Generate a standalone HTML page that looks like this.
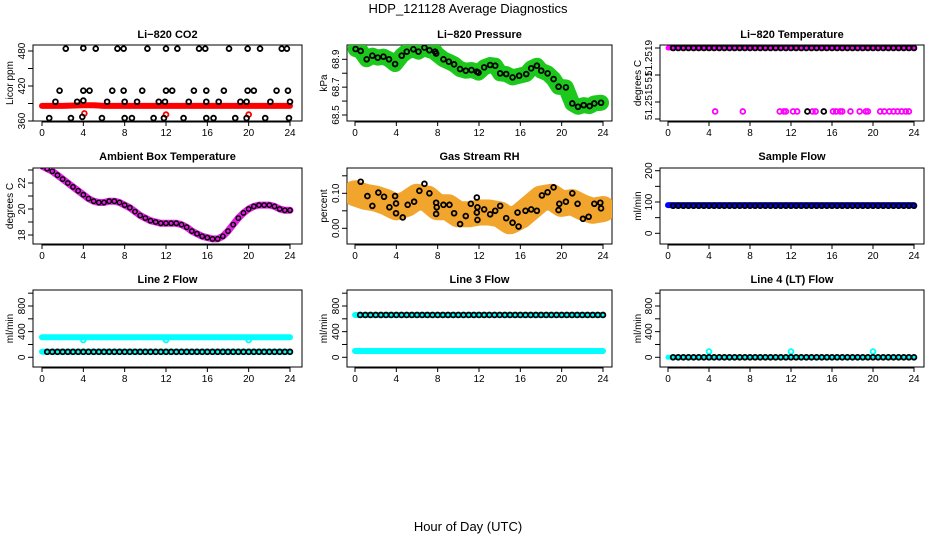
<!DOCTYPE html>
<html><head><meta charset="utf-8">
<style>
html,body{margin:0;padding:0;background:#fff;}
svg{display:block;font-family:"Liberation Sans",Arial,sans-serif;}
</style></head>
<body>
<svg id="chart" width="936" height="540" viewBox="0 0 936 540">
<text x="468" y="13" text-anchor="middle" font-size="13">HDP_121128  Average Diagnostics</text>
<text x="468" y="531" text-anchor="middle" font-size="13">Hour of Day (UTC)</text>
</svg>
<script>
// ---------- data ----------
const xTicks = [0,4,8,12,16,20,24];
const hrs48 = [0.5,1,1.5,2,2.5,3,3.5,4,4.5,5,5.5,6,6.5,7,7.5,8,8.5,9,9.5,10,10.5,11,11.5,12,12.5,13,13.5,14,14.5,15,15.5,16,16.5,17,17.5,18,18.5,19,19.5,20,20.5,21,21.5,22,22.5,23,23.5,24];

const co2Hours = [2.3,4,5.2,7.3,7.9,10.2,12,13.1,15.2,15.8,18.1,19.9,21.1,23.2,23.7, 1.7,4,4.6,6.8,7.9,9.7,12,12.6,14.7,15.9,17.6,19.9,20.5,22.7,23.8, 1.3,3.4,4,6.3,8,9.2,11.3,11.9,14.2,15.9,17.1,19.2,19.8,22.1,24, 0.7,2.8,3.9,5.8,8,8.7,10.8,11.8,13.7,15.9,16.6,18.7,19.8,21.6,23.9];
const co2Vals = [484,485,484,484,484,484,484,484,484,484,484,484,484,484,484, 412,412,412,412,412,412,412,412,412,412,412,412,412,412,412, 393,393,395,393,393,393,393,393,393,393,393,393,393,393,393, 365,365,367,365,365,365,365,365,365,365,365,365,365,365,365];
const co2RedHours = [0,2,4,5,6,8,10,12,14,16,18,20,22,24];
const co2RedVals = [386,386,387,387,386,386,386,386,386,386,386,386,386,386];
const co2OutHours = [4.1,12.0,20.0];
const co2OutVals = [373,371,371];

const presHours = [0.06,0.55,1.13,1.68,2.20,2.75,3.29,3.88,4.52,5.01,5.65,6.14,6.72,7.20,7.75,7.85,8.56,9.08,9.59,10.17,10.72,11.27,11.79,11.95,12.50,13.08,13.57,14.05,14.63,15.25,15.89,16.57,17.05,17.60,18.02,18.64,19.22,19.70,20.41,21.03,21.58,22.13,22.71,23.16,23.81];
const presVals = [68.974,68.960,68.900,68.926,68.912,68.919,68.900,68.866,68.926,68.955,68.972,68.955,68.984,68.965,68.955,68.941,68.900,68.883,68.864,68.830,68.818,68.823,68.811,68.804,68.842,68.859,68.854,68.799,68.794,68.770,68.782,68.794,68.835,68.854,68.818,68.799,68.758,68.703,68.698,68.583,68.559,68.571,68.564,68.583,68.588];

const tempTopVals = [51.2519,51.2519,51.2519,51.2519,51.2519,51.2519,51.2519,51.2519,51.2519,51.2519,51.2519,51.2519,51.2519,51.2519,51.2519,51.2519,51.2519,51.2519,51.2519,51.2519,51.2519,51.2519,51.2519,51.2519,51.2519,51.2519,51.2519,51.2519,51.2519,51.2519,51.2519,51.2519,51.2519,51.2519,51.2519,51.2519,51.2519,51.2519,51.2519,51.2519,51.2519,51.2519,51.2519,51.2519,51.2519,51.2519,51.2519,51.2519];
const tempLowMagHours = [4.6,7.3,10.9,11.3,11.5,12.2,12.6,14.1,14.4,16.1,16.4,16.8,17.0,17.8,18.7,19.3,19.5,20.7,21.1,21.6,22.0,22.4,22.8,23.2,23.5];
const tempLowBlackHours = [13.6,15.2];
const tempLowVal = 51.25143;

const ambHours = [0,0.5,1,1.5,2,2.5,3,3.5,4,4.5,5,5.5,6,6.5,7,7.5,8,8.5,9,9.5,10,10.5,11,11.5,12,12.5,13,13.5,14,14.5,15,15.5,16,16.5,17,17.5,18,18.5,19,19.5,20,20.5,21,21.5,22,22.5,23,23.5,24];
const ambVals = [23.3,23.1,22.9,22.6,22.3,22.0,21.7,21.4,21.1,20.8,20.6,20.5,20.5,20.6,20.6,20.5,20.3,20.1,19.8,19.5,19.3,19.1,19.0,18.9,18.9,18.9,18.9,18.8,18.6,18.3,18.1,17.9,17.8,17.7,17.7,17.9,18.3,18.8,19.3,19.7,20.0,20.2,20.3,20.3,20.3,20.2,20.0,19.9,19.9];

const rhHours = [0.55,1.20,1.68,2.26,2.81,3.33,3.88,3.97,3.97,4.62,5.10,5.72,6.23,6.72,7.20,7.85,7.91,7.85,8.56,9.14,9.59,10.17,10.72,11.21,11.79,11.85,11.79,11.85,12.50,13.08,13.57,14.05,14.63,15.25,15.73,15.83,16.50,17.05,17.60,18.09,18.64,19.22,19.70,19.77,20.41,21.03,21.54,22.06,22.61,23.16,23.74,23.81];
const rhVals = [0.133,0.092,0.064,0.102,0.090,0.060,0.092,0.071,0.043,0.031,0.067,0.076,0.107,0.127,0.100,0.073,0.060,0.041,0.067,0.067,0.043,0.012,0.035,0.070,0.088,0.060,0.045,0.024,0.054,0.040,0.050,0.064,0.029,0.016,0.045,0.005,0.050,0.054,0.050,0.094,0.103,0.117,0.052,0.070,0.076,0.100,0.070,0.027,0.033,0.070,0.073,0.057];
const rhBandHours = [0,1,2,3,4,5,6,7,8,9,10,11,12,13,14,15,16,17,18,19,20,21,22,23,24];
const rhBandVals = [0.10,0.09,0.085,0.075,0.06,0.07,0.09,0.085,0.06,0.06,0.04,0.04,0.045,0.045,0.04,0.02,0.035,0.06,0.085,0.09,0.07,0.075,0.06,0.05,0.055];

const sampleVals = [88,88,88,88,88,88,88,88,88,88,88,88,88,88,88,88,88,88,88,88,88,88,88,88,88,88,88,88,88,88,88,88,88,88,88,88,88,88,88,88,88,88,88,88,88,88,88,88];
const line2Upper = 312, line2Lower = 87;
const line2Black = [85,85,85,85,85,85,85,85,85,85,85,85,85,85,85,85,85,85,85,85,85,85,85,85,85,85,85,85,85,85,85,85,85,85,85,85,85,85,85,85,85,85,85,85,85,85,85,85];
const line2DipHours = [4,12,20];
const line2DipVals = [270,270,270];
const line3Upper = 660, line3Lower = 98;
const line3Black = [660,660,660,660,660,660,660,660,660,660,660,660,660,660,660,660,660,660,660,660,660,660,660,660,660,660,660,660,660,660,660,660,660,660,660,660,660,660,660,660,660,660,660,660,660,660,660,660];
const line4Black = [0,0,0,0,0,0,0,0,0,0,0,0,0,0,0,0,0,0,0,0,0,0,0,0,0,0,0,0,0,0,0,0,0,0,0,0,0,0,0,0,0,0,0,0,0,0,0,0];
const line4BlipHours = [4,12,20];
const line4BlipVals = [90,90,90];

// ---------- helpers ----------
const NS = 'http://www.w3.org/2000/svg';
const svg = document.getElementById('chart');
function mk(tag, attrs, parent){ const e=document.createElementNS(NS,tag); for(const k in attrs) e.setAttribute(k,attrs[k]); (parent||svg).appendChild(e); return e; }
function lin(v0,p0,v1,p1){ return v=>p0+(v-v0)*(p1-p0)/(v1-v0); }

const cols=[{l:33,r:302,x0:42,x24:290,lab:9},{l:347,r:612,x0:355,x24:603,lab:323},{l:660,r:924,x0:668,x24:914,lab:637}];
const rows=[{t:45,b:121,ty:38},{t:168,b:244,ty:160},{t:290,b:367,ty:283}];

function panel(ci,ri,name,title,ylab,ysc,ticks){
  const c=cols[ci], r=rows[ri];
  const g=mk('g',{});
  
  
  const x=lin(0,c.x0,24,c.x24);
  const t=mk('text',{x:(c.l+c.r)/2,y:r.ty,'text-anchor':'middle','font-size':11,'font-weight':'bold'},g);
  t.textContent=title;
  
  
  const yl=mk('text',{x:0,y:0,'text-anchor':'middle','font-size':10,transform:`translate(${c.lab+4},${(r.t+r.b)/2}) rotate(-90)`},g);
  yl.textContent=ylab;
  
  
  const xa=mk('g',{},g);
  
  
  mk('line',{x1:x(0),x2:x(24),y1:r.b+1,y2:r.b+1,stroke:'#000'},xa);
  xTicks.forEach(v=>{
    mk('line',{x1:x(v),x2:x(v),y1:r.b,y2:r.b+5,stroke:'#000'},xa);
    const tl=mk('text',{x:x(v),y:r.b+15,'text-anchor':'middle','font-size':10},xa);
    tl.textContent=v;
  });
  const ya=mk('g',{},g);
  
  
  const pts=ticks.map(tk=>tk[2]!==undefined?tk[2]:ysc(tk[0]));
  mk('line',{x1:c.l,x2:c.l,y1:Math.min(...pts),y2:Math.max(...pts),stroke:'#000'},ya);
  ticks.forEach((tk,i)=>{
    const py=pts[i];
    mk('line',{x1:c.l-5,x2:c.l,y1:py,y2:py,stroke:'#000'},ya);
    if(tk[1]){ const ly=tk[3]!==undefined?tk[3]:py; const tl=mk('text',{x:0,y:0,'text-anchor':'middle','font-size':10,transform:`translate(${c.l-8},${ly}) rotate(-90)`},ya); tl.textContent=tk[1]; }
  });
  mk('rect',{x:c.l,y:r.t,width:c.r-c.l,height:r.b-r.t,fill:'none',stroke:'#000'},g);
  const clip='clip'+ci+ri;
  const cp=mk('clipPath',{id:clip},g); mk('rect',{x:c.l,y:r.t,width:c.r-c.l,height:r.b-r.t},cp);
  const plot=mk('g',{'clip-path':`url(#${clip})`},g);
  return {x,y:ysc,g:plot};
}
function poly(P,hs,vs,color,w,name){
  const e=mk('polyline',{points:hs.map((h,i)=>P.x(h)+','+P.y(vs[i])).join(' '),fill:'none',stroke:color,'stroke-width':w,'stroke-linejoin':'round','stroke-linecap':'round'},P.g);
  
  
}
function circles(P,hs,vs,color,name,r,sw){
  const g=mk('g',{},P.g);
  
  
  hs.forEach((h,i)=>mk('circle',{cx:P.x(h),cy:P.y(vs[i]),r:r||2.4,fill:'none',stroke:color,'stroke-width':sw||1.8},g));
}

// ---------- panels ----------
let P;
P=panel(0,0,'co2','Li−820 CO2','Licor ppm',lin(360,121,480,51),[[360,'360'],[390,''],[420,'420'],[450,''],[480,'480']]);
poly(P,co2RedHours,co2RedVals,'#ff0000',6,'co2-red-series');
circles(P,co2OutHours,co2OutVals,'#ff0000','co2-red-outliers');
circles(P,co2Hours,co2Vals,'#000','co2-avg-points');

P=panel(1,0,'pressure','Li−820 Pressure','kPa',lin(68.5,115,68.9,59.3),[[68.5,'68.5'],[68.6,''],[68.7,'68.7'],[68.8,''],[68.9,'68.9']]);
poly(P,presHours,presVals,'#1cc81c',16,'pressure-green-band');
circles(P,presHours,presVals,'#000','pressure-avg-points');

P=panel(2,0,'temperature','Li−820 Temperature','degrees C',lin(51.2515,102,51.2519,48),[[51.2519,'51.2519',48,58],[51.2518,'51',75,77],[51.2515,'51.2515',102,102],[51.2514,'',119]]);
poly(P,[0,24],[51.2519,51.2519],'#ff00ff',5,'temperature-magenta-band');
circles(P,hrs48,tempTopVals,'#000','temperature-avg-points');
circles(P,tempLowMagHours,tempLowMagHours.map(()=>tempLowVal),'#ff00ff','temperature-magenta-low');
circles(P,tempLowBlackHours,tempLowBlackHours.map(()=>tempLowVal),'#000','temperature-black-low');

P=panel(0,1,'ambient','Ambient Box Temperature','degrees C',lin(20,209,22,183),[[18,'18'],[19,''],[20,'20'],[21,''],[22,'22'],[23,'']]);
poly(P,ambHours,ambVals,'#e020e0',7,'ambient-magenta-series');
circles(P,ambHours,ambVals,'#000','ambient-avg-points',2.2,1.4);

P=panel(1,1,'rh','Gas Stream RH','percent',lin(0,228.3,0.10,193.3),[[0,'0.00'],[0.05,''],[0.10,'0.10'],[0.15,'']]);
poly(P,rhBandHours,rhBandVals,'#f2a52c',26,'rh-orange-band');
circles(P,rhHours,rhVals,'#000','rh-avg-points');

P=panel(2,1,'sample-flow','Sample Flow','ml/min',lin(0,233.3,200,170.7),[[0,'0'],[50,''],[100,'100'],[150,''],[200,'200']]);
poly(P,[0,24],[90,90],'#0000ff',6,'sample-flow-blue');
circles(P,hrs48,sampleVals,'#000','sample-flow-avg-points');

const flowTicks=[[0,'0'],[200,''],[400,'400'],[600,''],[800,'800'],[1000,'']];
P=panel(0,2,'line2','Line 2 Flow','ml/min',lin(0,357.3,800,306),flowTicks);
poly(P,[0,24],[line2Upper,line2Upper],'#00ffff',6,'line2-upper-cyan');
circles(P,line2DipHours,line2DipVals,'#00ffff','line2-dips');
poly(P,[0,24],[line2Lower,line2Lower],'#00ffff',6,'line2-lower-cyan');
circles(P,hrs48,line2Black,'#000','line2-avg-points');

P=panel(1,2,'line3','Line 3 Flow','ml/min',lin(0,357.3,800,306),flowTicks);
poly(P,[0,24],[line3Upper,line3Upper],'#00ffff',6,'line3-upper-cyan');
poly(P,[0,24],[line3Lower,line3Lower],'#00ffff',6,'line3-lower-cyan');
circles(P,hrs48,line3Black,'#000','line3-avg-points');

P=panel(2,2,'line4','Line 4 (LT) Flow','ml/min',lin(0,357.3,800,306),flowTicks);
poly(P,[0,24],[0,0],'#00ffff',5,'line4-cyan');
circles(P,line4BlipHours,line4BlipVals,'#00ffff','line4-blips');
circles(P,hrs48,line4Black,'#000','line4-avg-points');
</script>
</body></html>
